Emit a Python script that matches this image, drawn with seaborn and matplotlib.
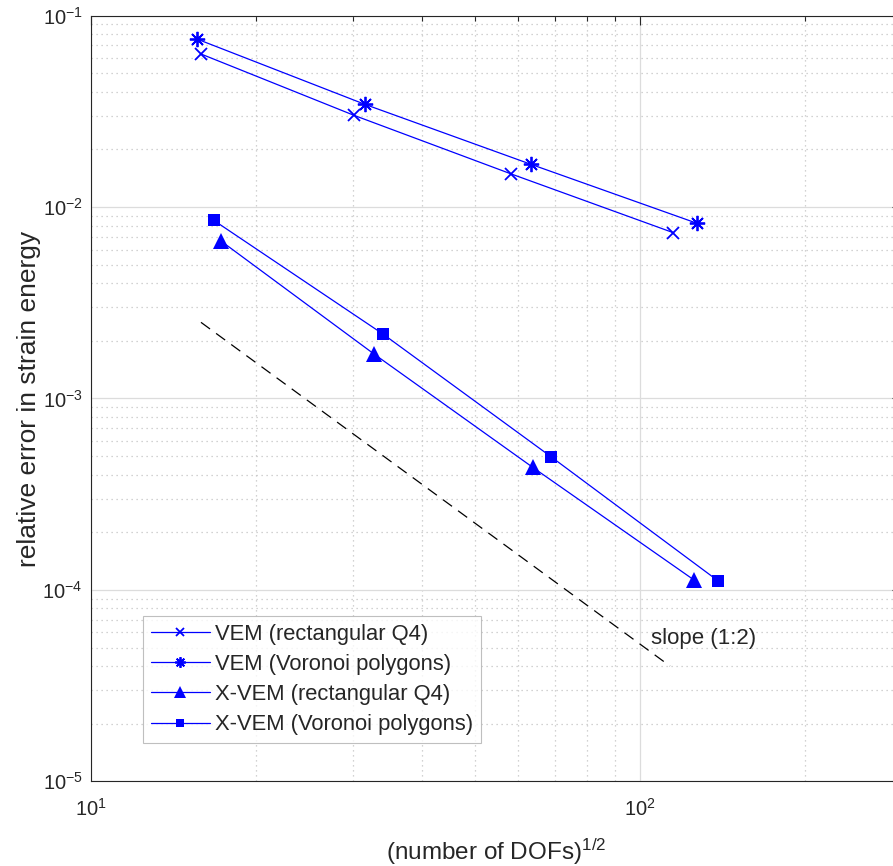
import numpy as np
import pandas as pd
import matplotlib
matplotlib.use("Agg")
import matplotlib.pyplot as plt
import seaborn as sns

# ---- data ----
vem_q4_x = [15.86, 30.1, 58.3, 115.0]
vem_q4_y = [0.0631, 0.0302, 0.01489, 0.00735]
vem_vor_x = [15.58, 31.56, 63.3, 127.0]
vem_vor_y = [0.0756, 0.0344, 0.01673, 0.00823]
xvem_q4_x = [17.25, 32.77, 63.76, 125.4]
xvem_q4_y = [0.00665, 0.001708, 0.000437, 0.0001127]
xvem_vor_x = [16.73, 34.08, 68.94, 138.5]
xvem_vor_y = [0.00853, 0.002165, 0.000495, 0.0001119]
slope_x = [15.86, 113.4]
slope_y = [2.5e-3, 4.0e-5]
labels = ["VEM (rectangular Q4)", "VEM (Voronoi polygons)",
          "X-VEM (rectangular Q4)", "X-VEM (Voronoi polygons)"]

sns.set_theme(style="white")
plt.rcParams["font.family"] = ["Liberation Sans", "DejaVu Sans"]
plt.rcParams["mathtext.fontset"] = "custom"
plt.rcParams["mathtext.rm"] = "Liberation Sans"
plt.rcParams["mathtext.it"] = "Liberation Sans:italic"
plt.rcParams["mathtext.bf"] = "Liberation Sans:bold"
plt.rcParams["mathtext.default"] = "regular"

W, H = 893, 866
fig = plt.figure(figsize=(W / 100, H / 100), dpi=100)
ax = fig.add_axes([91 / W, (H - 781.3) / H, 810 / W, 765.6 / H])

blue = (0, 0, 1)
series = [
    (vem_q4_x, vem_q4_y, dict(marker="x", markersize=9, markeredgewidth=1.3)),
    (vem_vor_x, vem_vor_y, dict(marker=(8, 2, 0), markersize=11, markeredgewidth=1.3)),
    (xvem_q4_x, xvem_q4_y, dict(marker="^", markersize=12, markeredgewidth=0)),
    (xvem_vor_x, xvem_vor_y, dict(marker="s", markersize=9, markeredgewidth=0)),
]
for (xs, ys, mk), lab in zip(series, labels):
    df = pd.DataFrame({"x": xs, "y": ys})
    sns.lineplot(data=df, x="x", y="y", ax=ax, color=blue, linewidth=0.9,
                 markeredgecolor=blue, markerfacecolor=blue, label=lab,
                 estimator=None, sort=False, **mk)

sdf = pd.DataFrame({"x": slope_x, "y": slope_y})
sns.lineplot(data=sdf, x="x", y="y", ax=ax, color="black", linewidth=0.9,
             linestyle=(0, (9, 6)), estimator=None, sort=False, legend=False)
ax.text(104.8, 5.6e-5, "slope (1:2)", fontsize=16, color="#262626",
        ha="left", va="center")

ax.set_xscale("log")
ax.set_yscale("log")
ax.set_xlim(10, 10 ** (1 + 810 / 549))
ax.set_ylim(1e-5, 1e-1)

ax.grid(True, which="major", color="#dcdcdc", linewidth=0.9, linestyle="-")
ax.grid(True, which="minor", color="#c4c4c4", linewidth=0.9, linestyle=(0, (1, 3)))
ax.set_axisbelow(True)

ax.tick_params(which="both", direction="in", top=True, right=True,
               colors="#262626", labelsize=14.5)
ax.tick_params(which="major", length=6.5, width=0.8)
ax.tick_params(which="minor", length=3.5, width=0.8)
ax.tick_params(axis="x", which="major", pad=12)
ax.tick_params(axis="y", which="major", pad=6)
for s in ax.spines.values():
    s.set_color("#262626")
    s.set_linewidth(0.8)

ax.set_xlabel(r"(number of DOFs)$^{1/2}$", fontsize=17.5, color="#262626", labelpad=12)
ax.set_ylabel("relative error in strain energy", fontsize=19, color="#262626", labelpad=1)

leg = ax.legend(loc="upper left", bbox_to_anchor=((143 - 91) / 810, (781.3 - 616) / 765.6),
                borderaxespad=0, fontsize=15.8, handlelength=2.7, handletextpad=0.25,
                borderpad=0.35, labelspacing=0.42, frameon=True, fancybox=False,
                markerscale=0.7)
leg.get_frame().set_edgecolor("#b0b0b0")
leg.get_frame().set_linewidth(0.8)
for t in leg.get_texts():
    t.set_color("#262626")

fig.savefig("out.png", dpi=100)
